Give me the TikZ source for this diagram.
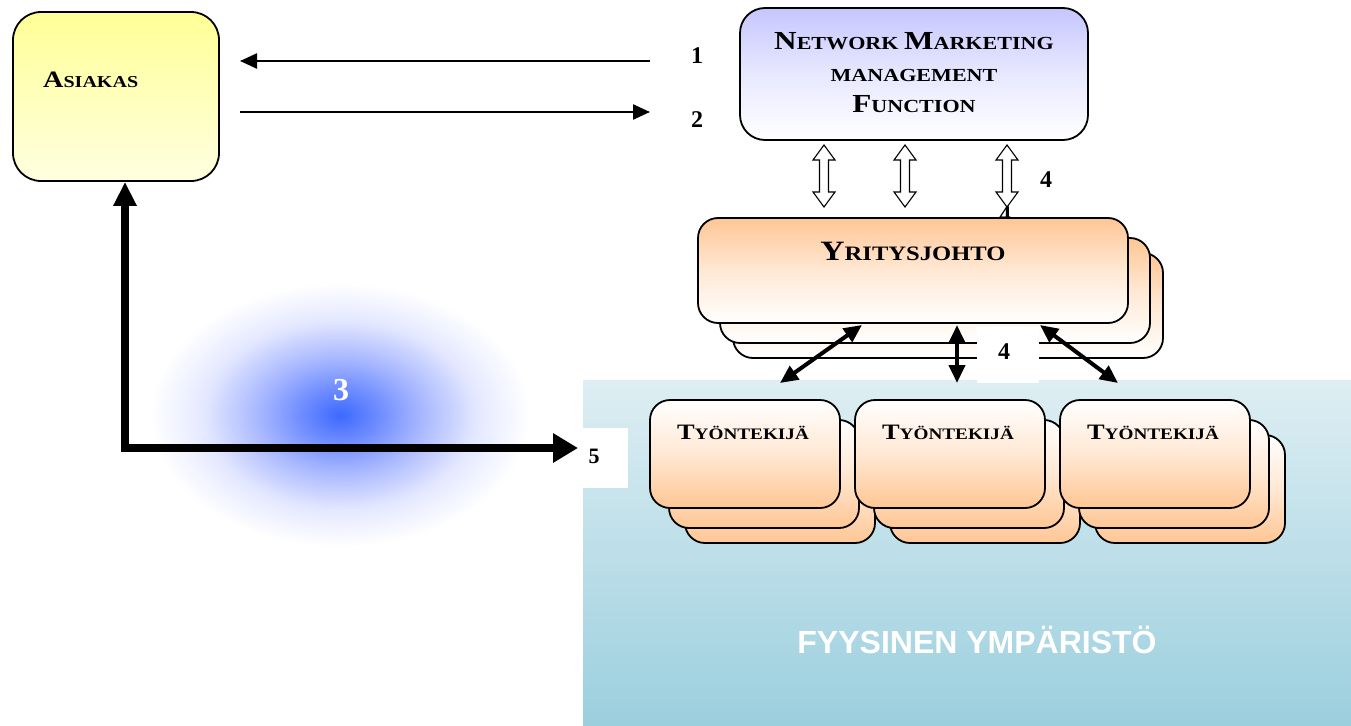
\documentclass[tikz,border=0pt]{standalone}
\usepackage{fontspec}
\setmainfont{Liberation Serif}
\newfontfamily\sansfam{Liberation Sans}
\newfontfamily\widefam[FakeStretch=1.2]{Liberation Serif}
\usetikzlibrary{arrows.meta,shadings}

\definecolor{peach}{RGB}{255,198,148}
\definecolor{peachlt}{RGB}{255,232,212}
\definecolor{lav}{RGB}{198,198,255}
\definecolor{lavlt}{RGB}{232,232,255}
\definecolor{lemon}{RGB}{255,255,150}
\definecolor{lemonlt}{RGB}{255,255,225}
\definecolor{sea1}{RGB}{222,238,243}
\definecolor{sea2}{RGB}{155,207,222}
\definecolor{glowa}{RGB}{60,105,255}
\definecolor{glowb}{RGB}{110,140,255}
\definecolor{glowc}{RGB}{170,185,255}
\definecolor{glowd}{RGB}{228,232,255}

% soft blue halo behind label 3
\pgfdeclareradialshading{halo}{\pgfpoint{0bp}{0bp}}{%
  color(0bp)=(glowa); color(5bp)=(glowb); color(11bp)=(glowc);
  color(18bp)=(glowd); color(25bp)=(white); color(50bp)=(white)}

% enlarged initial letter for small-caps style titles
\newcommand\ini[2]{{\fontsize{#1}{#1}\selectfont #2}}

\tikzset{
  frame/.style={draw, line width=1.8pt, inner sep=0pt},
  orangetop/.style={frame, rounded corners=20pt, top color=peach, bottom color=white, middle color=peachlt},
  orangebot/.style={frame, rounded corners=20pt, top color=white, bottom color=peach, middle color=peachlt,
    minimum width=190pt, minimum height=108pt},
  numlabel/.style={font=\bfseries\fontsize{24}{24}\selectfont, inner sep=0pt},
  patch/.style={fill=white, inner sep=0pt, anchor=north west},
  thinarrow/.style={line width=2.4pt, -{Triangle[length=17pt,width=15pt]}},
  linkarrow/.style={line width=4pt, {Triangle[length=18pt,width=16pt]}-{Triangle[length=18pt,width=16pt]}},
  hollowdbl/.pic={
    \draw[fill=white, line width=1.1pt, line join=miter]
      (0,-31) -- (11,-16) -- (4.5,-16) -- (4.5,16) -- (11,16) -- (0,31)
      -- (-11,16) -- (-4.5,16) -- (-4.5,-16) -- (-11,-16) -- cycle;
  }
}

\begin{document}
\begin{tikzpicture}[x=1pt, y=-1pt]
\useasboundingbox (0,0) rectangle (1351,725);

% halo
\shade[shading=halo] (340,415) ellipse [x radius=190pt, y radius=132pt];

% physical environment
\node (env) [patch, top color=sea1, bottom color=sea2, minimum width=768pt, minimum height=345pt] at (583,380) {};
\node[text=white, font=\sansfam\bfseries\fontsize{32}{32}\selectfont] at (977,640) {FYYSINEN YMPÄRISTÖ};

% customer
\node (asiakas) [frame, rounded corners=28pt, top color=lemon, bottom color=lemonlt,
  minimum width=206pt, minimum height=169pt] at (116,96.5) {};
\node[font=\widefam\bfseries\fontsize{16.7}{16.7}\selectfont, anchor=west, inner sep=0pt] at (43,80) {\ini{23.5}{A}SIAKAS};

% network marketing management function
\node (nmm) [frame, rounded corners=25pt, top color=lav, bottom color=white, middle color=lavlt,
  minimum width=348pt, minimum height=132pt] at (914,74) {};
\node[font=\widefam\bfseries\fontsize{18.4}{31.5}\selectfont, align=center, inner sep=0pt] at (914,73)
  {\ini{26}{N}ETWORK \ini{26}{M}ARKETING\\MANAGEMENT\\\ini{26}{F}UNCTION};

% arrows 1 and 2
\coordinate (r1) at (650,61);
\coordinate (l1) at (240,61);
\coordinate (l2) at (240,112);
\coordinate (r2) at (650,112);
\draw[thinarrow] (r1) -- (l1);
\draw[thinarrow] (l2) -- (r2);
\node[numlabel] at (697,56) {1};
\node[numlabel] at (697,120) {2};

% partly hidden label under the right hollow arrow
\node[numlabel] at (1005,215) {4};

% hollow double arrows between function and management
\pic at (824,176) {hollowdbl};
\pic at (905,176) {hollowdbl};
\pic at (1007,176) {hollowdbl};
\node[numlabel] at (1046,180) {4};

% management stack
\node (yj3) [orangetop, minimum width=430pt, minimum height=105pt] at (948,305.5) {};
\node (yj2) [orangetop, minimum width=430pt, minimum height=105pt] at (935,290.5) {};
\node (yj) [orangetop, minimum width=430pt, minimum height=105pt] at (913,270.5) {};
\node[font=\widefam\bfseries\fontsize{20.5}{20.5}\selectfont, inner sep=0pt] at (913,251) {\ini{28}{Y}RITYSJOHTO};

\node (p4) [patch, minimum width=62pt, minimum height=56pt] at (977,327) {};
\node[numlabel] at (1004,352) {4};

% employee stacks
\foreach \n/\cx in {1/745, 2/950, 3/1155} {
  \node (t\n c) [orangebot] at (\cx+35,489) {};
  \node (t\n b) [orangebot] at (\cx+19,474) {};
  \node (t\n) [orangebot] at (\cx,454) {};
  \node[font=\widefam\bfseries\fontsize{16}{16}\selectfont, inner sep=0pt] at (\cx-2,432) {\ini{22}{T}YÖNTEKIJÄ};
}

% management <-> employees
\coordinate (ya) at (862,325);
\coordinate (ta) at (780,383);
\coordinate (yb) at (957,325);
\coordinate (tb) at (957,383);
\coordinate (yc) at (1040,325);
\coordinate (tc) at (1118,383);
\draw[linkarrow] (ya) -- (ta);
\draw[linkarrow] (yb) -- (tb);
\draw[linkarrow] (yc) -- (tc);

% label 5
\node (p5) [patch, minimum width=45pt, minimum height=60pt] at (583,428) {};
\node[numlabel, font=\bfseries\fontsize{22}{22}\selectfont] at (594,456) {5};

% customer <-> environment
\coordinate (corner) at (125,448);
\coordinate (end5) at (578,448);
\draw[line width=8pt, line join=miter,
  {Triangle[length=24pt,width=22pt]}-{Triangle[length=25pt,width=28pt]}]
  (asiakas.south -| corner) -- (corner) -- (end5);

% label 3
\node[text=white, font=\bfseries\fontsize{32}{32}\selectfont, inner sep=0pt] at (341,390) {3};
\end{tikzpicture}
\end{document}
